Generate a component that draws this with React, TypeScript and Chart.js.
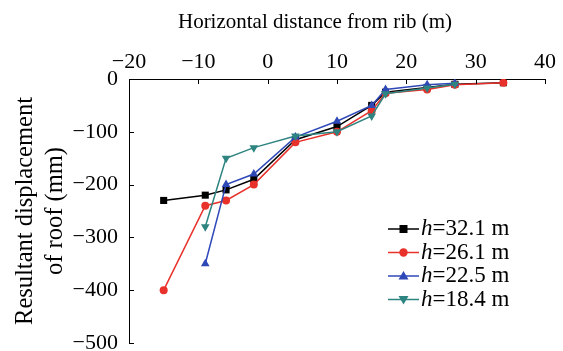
import React, { useEffect, useRef } from "react";
import { Chart, registerables } from "chart.js";

Chart.register(...registerables);

const FONT = '"Liberation Serif", "Times New Roman", serif';

// Data
const xFull = [-15, -9, -6, -2, 4, 10, 15, 17, 23, 27, 34];
const xShort = [-9, -6, -2, 4, 10, 15, 17, 23, 27];
const h321 = [-230, -220, -210, -190, -115, -90, -50, -25, -16, -10, -7];
const h261 = [-400, -240, -230, -200, -120, -100, -60, -27, -20, -11, -7];
const h225 = [-350, -200, -180, -110, -80, -50, -20, -11, -8];
const h184 = [-280, -150, -130, -108, -100, -70, -28, -17, -10];
const seriesNames = ["32.1", "26.1", "22.5", "18.4"];

const xTitle = "Horizontal distance from rib (m)";
const yTitle = ["Resultant displacement", "of roof (mm)"];
const xMin = -20, xMax = 40, xStep = 10;
const yMin = -500, yMax = 0, yStep = 100;

const colors = ["#000000", "#e8312a", "#2f48b8", "#2e8480"];
const styles: any[] = ["rect", "circle", "triangle", "triangle"];
const rotations = [0, 0, 0, 180];
const radii = [5, 4, 5, 5];

const fmt = (v: number) => (v < 0 ? "\u2212" + Math.abs(v) : String(v));

const toPts = (xs: number[], ys: number[]) => xs.map((x, i) => ({ x, y: ys[i] }));

export default function App() {
  const ref = useRef<HTMLCanvasElement>(null);
  useEffect(() => {
    document.body.style.margin = "0";
    const canvas = ref.current!;
    const dataSets = [
      toPts(xFull, h321),
      toPts(xFull, h261),
      toPts(xShort, h225),
      toPts(xShort, h184),
    ];

    const inwardTicks = {
      id: "inwardTicks",
      afterDraw(chart: any) {
        const ctx = chart.ctx;
        const xs = chart.scales.x;
        const ys = chart.scales.y;
        const area = chart.chartArea;
        ctx.save();
        ctx.strokeStyle = "#000";
        ctx.lineWidth = 1;
        xs.ticks.forEach((t: any) => {
          const px = Math.round(xs.getPixelForValue(t.value)) + 0.5;
          ctx.beginPath();
          ctx.moveTo(px, area.top);
          ctx.lineTo(px, area.top + 5);
          ctx.stroke();
        });
        ys.ticks.forEach((t: any) => {
          const py = Math.round(ys.getPixelForValue(t.value)) + 0.5;
          ctx.beginPath();
          ctx.moveTo(area.left, py);
          ctx.lineTo(area.left + 5, py);
          ctx.stroke();
        });
        // top title
        ctx.fillStyle = "#000";
        ctx.font = `21px ${FONT}`;
        ctx.textAlign = "center";
        ctx.textBaseline = "middle";
        ctx.fillText(xTitle, (area.left + area.right) / 2 - 22, 22);
        ctx.restore();
      },
    };

    const drawMarker = (ctx: CanvasRenderingContext2D, i: number, x: number, y: number) => {
      ctx.fillStyle = colors[i];
      ctx.beginPath();
      if (i === 0) {
        ctx.rect(x - 4, y - 4, 8, 8);
      } else if (i === 1) {
        ctx.arc(x, y, 4.2, 0, Math.PI * 2);
      } else if (i === 2) {
        ctx.moveTo(x, y - 5);
        ctx.lineTo(x + 5, y + 3.5);
        ctx.lineTo(x - 5, y + 3.5);
        ctx.closePath();
      } else {
        ctx.moveTo(x, y + 5);
        ctx.lineTo(x + 5, y - 3.5);
        ctx.lineTo(x - 5, y - 3.5);
        ctx.closePath();
      }
      ctx.fill();
    };

    const legendPlugin = {
      id: "innerLegend",
      afterDraw(chart: any) {
        const ctx = chart.ctx;
        const area = chart.chartArea;
        const x0 = area.right - 157;
        const y0 = area.top + 150;
        const step = 23.5;
        ctx.save();
        seriesNames.forEach((name, i) => {
          const y = y0 + i * step;
          ctx.strokeStyle = colors[i];
          ctx.lineWidth = 1.5;
          ctx.beginPath();
          ctx.moveTo(x0, y);
          ctx.lineTo(x0 + 31, y);
          ctx.stroke();
          drawMarker(ctx, i, x0 + 15.5, y);
          ctx.fillStyle = "#000";
          ctx.textBaseline = "middle";
          ctx.textAlign = "left";
          ctx.font = `italic 23px ${FONT}`;
          const tx = x0 + 33;
          ctx.fillText("h", tx, y);
          const w = ctx.measureText("h").width;
          ctx.font = `23px ${FONT}`;
          ctx.fillText("=" + name + " m", tx + w, y);
        });
        ctx.restore();
      },
    };

    const chart = new Chart(canvas, {
      type: "scatter",
      data: {
        datasets: dataSets.map((d, i) => ({
          label: "h=" + seriesNames[i] + " m",
          data: d,
          showLine: true,
          borderColor: colors[i],
          backgroundColor: colors[i],
          borderWidth: 1.5,
          pointStyle: styles[i],
          rotation: rotations[i],
          pointRadius: radii[i],
          pointBorderWidth: 0,
          order: 4 - i,
        })),
      },
      options: {
        animation: false,
        responsive: false,
        devicePixelRatio: 1,
        layout: { padding: { left: 0, right: 18, top: 0, bottom: 8 } },
        plugins: { legend: { display: false }, tooltip: { enabled: false } },
        scales: {
          x: {
            type: "linear",
            position: "top",
            min: xMin,
            max: xMax,
            afterFit: (s: any) => {
              s.height = 79;
              s.paddingLeft = 0;
              s.paddingRight = 0;
            },
            grid: { display: false, drawTicks: false },
            border: { display: true, color: "#000", width: 1 },
            ticks: {
              stepSize: xStep,
              padding: 4,
              color: "#000",
              font: { family: FONT, size: 22 },
              callback: (v: any) => fmt(Number(v)),
              maxRotation: 0,
            },
          },
          y: {
            type: "linear",
            min: yMin,
            max: yMax,
            afterFit: (s: any) => {
              s.width = 129;
              s.paddingTop = 0;
              s.paddingBottom = 0;
            },
            grid: { display: false, drawTicks: false },
            border: { display: true, color: "#000", width: 1 },
            title: {
              display: true,
              text: yTitle,
              color: "#000",
              font: { family: FONT, size: 24.5, lineHeight: 1.2 },
              padding: { top: 11, bottom: 0 },
            },
            ticks: {
              stepSize: yStep,
              padding: 11,
              color: "#000",
              font: { family: FONT, size: 22 },
              callback: (v: any) => fmt(Number(v)),
            },
          },
        },
      },
      plugins: [inwardTicks, legendPlugin],
    });
    return () => chart.destroy();
  }, []);

  return (
    <div style={{ width: 563, height: 351 }}>
      <canvas ref={ref} width={563} height={351} style={{ width: 563, height: 351, display: "block" }} />
    </div>
  );
}
